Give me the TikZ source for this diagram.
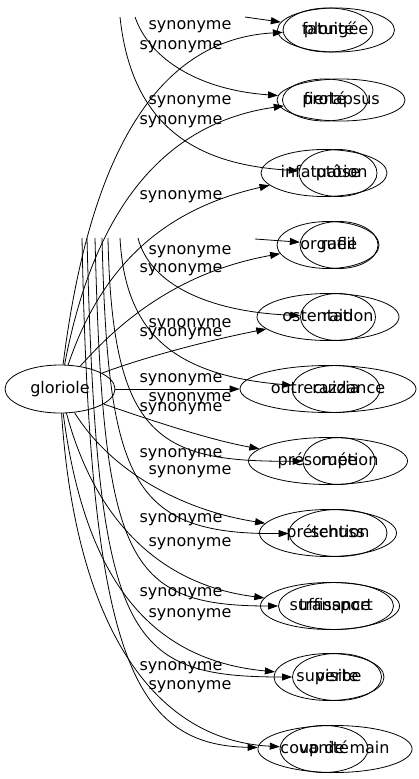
\documentclass[tikz,border=0pt]{standalone}
\usepackage{fontspec}
\setmainfont{DejaVu Sans}
\usetikzlibrary{shapes.geometric,arrows.meta}
\begin{document}
\begin{tikzpicture}[x=1pt,y=-1pt,
  ell/.style={draw, ellipse, inner sep=0pt, line width=0.8pt, minimum height=47pt,
    font=\fontsize{16}{19}\selectfont, text height=11.5pt, text depth=3.5pt},
  lab/.style={inner sep=0pt, font=\fontsize{16}{19}\selectfont, text height=11.5pt, text depth=3.5pt},
  edge/.style={draw, line width=0.8pt, -{Triangle[length=10pt,width=7pt]}}
]
\useasboundingbox (0,0) rectangle (419,779);

% source
\node[ell, minimum width=110pt, minimum height=48pt] (g) at (60,389) {gloriole};

% graph A targets
\node[ell, minimum width=90pt, minimum height=44pt] (a1) at (328,30) {fatuité};
\node[ell, minimum width=85pt, minimum height=42pt] (a2) at (325,100) {fierté};
\node[ell, minimum width=126pt] (a3) at (324,173) {infatuation};
\node[ell, minimum width=102pt] (a4) at (328,245) {orgueil};
\node[ell, minimum width=142pt] (a5) at (328,317) {ostentation};
\node[ell, minimum width=176pt] (a6) at (328,389) {outrecuidance};
\node[ell, minimum width=159pt] (a7) at (328,461) {présomption};
\node[ell, minimum width=137pt] (a8) at (328,533) {prétention};
\node[ell, minimum width=139pt] (a9) at (330,606) {suffisance};
\node[ell, minimum width=110pt] (a10) at (329,677) {superbe};
\node[ell, minimum width=88pt] (a11) at (324,749) {vanité};

% graph B targets
\node[ell, minimum width=117pt, minimum height=44pt] (b1) at (336,30) {plongée};
\node[ell, minimum width=128pt, minimum height=42pt] (b2) at (341,100) {prolapsus};
\node[ell, minimum width=78pt] (b3) at (338,173) {ptôse};
\node[ell, minimum width=78pt] (b4) at (339,245) {rafle};
\node[ell, minimum width=75pt] (b5) at (338,317) {raid};
\node[ell, minimum width=88pt] (b6) at (336,389) {razzia};
\node[ell, minimum width=72pt] (b7) at (339,461) {ruée};
\node[ell, minimum width=98pt] (b8) at (338,533) {schuss};
\node[ell, minimum width=115pt] (b9) at (336,606) {transport};
\node[ell, minimum width=89pt] (b10) at (337,677) {visite};
\node[ell, minimum width=154pt] (b11) at (335,749) {coup de main};

% free ends of graph B edges
\coordinate (s1) at (245,17);
\coordinate (s2) at (135,17);
\coordinate (s3) at (120,17);
\coordinate (s4) at (255,239);
\coordinate (s5) at (138,238);
\coordinate (s6) at (120,238);
\coordinate (s7) at (108,238);
\coordinate (s8) at (102,238);
\coordinate (s9) at (95,238);
\coordinate (s10) at (87,238);
\coordinate (s11) at (82,238);

% graph A edges
\draw[edge] (g) .. controls (85,190) and (140,40) .. (a1);
\draw[edge] (g) .. controls (90,230) and (150,125) .. (a2);
\draw[edge] (g) .. controls (100,270) and (160,210) .. (a3);
\draw[edge] (g) .. controls (130,310) and (190,270) .. (a4);
\draw[edge] (g) .. controls (150,355) and (220,338) .. (a5);
\draw[edge] (g) -- (a6);
\draw[edge] (g) .. controls (150,420) and (210,440) .. (a7);
\draw[edge] (g) .. controls (110,470) and (180,510) .. (a8);
\draw[edge] (g) .. controls (95,520) and (160,585) .. (a9);
\draw[edge] (g) .. controls (85,580) and (150,660) .. (a10);
\draw[edge] (g) .. controls (75,620) and (150,740) .. (a11);

% graph B edges
\draw[edge] (s1) -- (b1);
\draw[edge] (s2) .. controls (150,60) and (200,90) .. (b2);
\draw[edge] (s3) .. controls (132,130) and (200,165) .. (b3);
\draw[edge] (s4) -- (b4);
\draw[edge] (s5) .. controls (150,285) and (210,312) .. (b5);
\draw[edge] (s6) .. controls (125,330) and (170,375) .. (b6);
\draw[edge] (s7) .. controls (112,440) and (160,462) .. (b7);
\draw[edge] (s8) .. controls (108,480) and (130,535) .. (b8);
\draw[edge] (s9) .. controls (103,560) and (125,606) .. (b9);
\draw[edge] (s10) .. controls (97,640) and (125,677) .. (b10);
\draw[edge] (s11) .. controls (90,650) and (130,745) .. (b11);

% labels, graph A
\node[lab] (la1) at (181,45) {synonyme};
\node[lab] (la2) at (181,120) {synonyme};
\node[lab] (la3) at (181,195) {synonyme};
\node[lab] (la4) at (181,268) {synonyme};
\node[lab] (la5) at (181,332) {synonyme};
\node[lab] (la6) at (181,378) {synonyme};
\node[lab] (la7) at (181,407) {synonyme};
\node[lab] (la8) at (181,453) {synonyme};
\node[lab] (la9) at (181,518) {synonyme};
\node[lab] (la10) at (181,592) {synonyme};
\node[lab] (la11) at (181,666) {synonyme};

% labels, graph B
\node[lab] (lb1) at (190,25) {synonyme};
\node[lab] (lb2) at (190,100) {synonyme};
\node[lab] (lb4) at (190,250) {synonyme};
\node[lab] (lb5) at (190,323) {synonyme};
\node[lab] (lb6) at (190,397) {synonyme};
\node[lab] (lb7) at (190,470) {synonyme};
\node[lab] (lb8) at (190,542) {synonyme};
\node[lab] (lb9) at (190,613) {synonyme};
\node[lab] (lb10) at (190,685) {synonyme};
\end{tikzpicture}
\end{document}
